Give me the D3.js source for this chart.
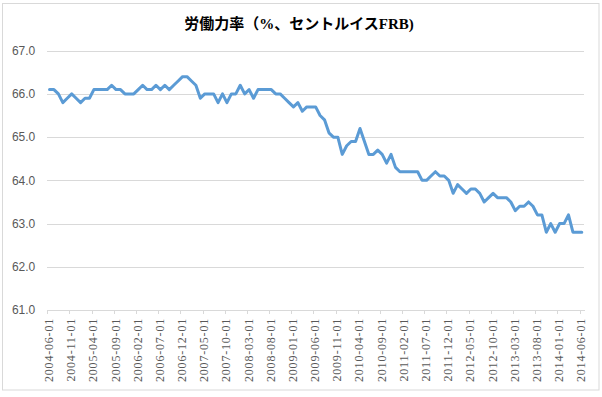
<!DOCTYPE html>
<html>
<head>
<meta charset="utf-8">
<script src="https://cdn.jsdelivr.net/npm/d3@7"></script>
<style>
    body { margin: 0; background: #fff; }
    svg { display: block; }
    .title { font-family: "Liberation Serif", "Noto Sans CJK JP", serif; font-weight: bold; font-size: 15px; fill: #000; }
    .yaxis text { font-family: "Liberation Sans", Arial, sans-serif; font-size: 12px; fill: #595959; }
    .xaxis text { font-family: "Liberation Serif", serif; font-size: 12px; fill: #595959; letter-spacing: 0.8px; }
</style>
</head>
<body>
<div id="chart"></div>
<script>
const title = '労働力率（%、セントルイスFRB)';

// monthly, 2004-06 .. 2014-06
const startMonth = new Date(2004, 5, 1);
const v2004 = [66.1, 66.1, 66.0, 65.8, 65.9, 66.0, 65.9];
const v2005 = [65.8, 65.9, 65.9, 66.1, 66.1, 66.1, 66.1, 66.2, 66.1, 66.1, 66.0, 66.0];
const v2006 = [66.0, 66.1, 66.2, 66.1, 66.1, 66.2, 66.1, 66.2, 66.1, 66.2, 66.3, 66.4];
const v2007 = [66.4, 66.3, 66.2, 65.9, 66.0, 66.0, 66.0, 65.8, 66.0, 65.8, 66.0, 66.0];
const v2008 = [66.2, 66.0, 66.1, 65.9, 66.1, 66.1, 66.1, 66.1, 66.0, 66.0, 65.9, 65.8];
const v2009 = [65.7, 65.8, 65.6, 65.7, 65.7, 65.7, 65.5, 65.4, 65.1, 65.0, 65.0, 64.6];
const v2010 = [64.8, 64.9, 64.9, 65.2, 64.9, 64.6, 64.6, 64.7, 64.6, 64.4, 64.6, 64.3];
const v2011 = [64.2, 64.2, 64.2, 64.2, 64.2, 64.0, 64.0, 64.1, 64.2, 64.1, 64.1, 64.0];
const v2012 = [63.7, 63.9, 63.8, 63.7, 63.8, 63.8, 63.7, 63.5, 63.6, 63.7, 63.6, 63.6];
const v2013 = [63.6, 63.5, 63.3, 63.4, 63.4, 63.5, 63.4, 63.2, 63.2, 62.8, 63.0, 62.8];
const v2014 = [63.0, 63.0, 63.2, 62.8, 62.8, 62.8];

const yTicks = [61, 62, 63, 64, 65, 66, 67];
const labelEvery = 5;

const values = [].concat(v2004, v2005, v2006, v2007, v2008, v2009, v2010, v2011, v2012, v2013, v2014);
const dates = values.map(function(v, i) { return d3.timeMonth.offset(startMonth, i); });
const fmt = d3.timeFormat('%Y-%m-%d');

const W = 602, H = 397;
const plotL = 47.3, plotR = 584, plotT = 50.7, plotB = 310;

const svg = d3.select('#chart').append('svg')
    .attr('width', W)
    .attr('height', H);

svg.append('rect')
    .attr('x', 2.5).attr('y', 3.5)
    .attr('width', 596.5).attr('height', 386.5)
    .attr('fill', '#fff')
    .attr('stroke', '#d9d9d9');

svg.append('text')
    .attr('class', 'title')
    .attr('x', 299)
    .attr('y', 29)
    .attr('text-anchor', 'middle')
    .text(title);

// category boundaries, points sit in the middle of each slot
const x = d3.scaleLinear().domain([0, values.length]).range([plotL, plotR]);
const y = d3.scaleLinear().domain([61, 67]).range([plotB, plotT]);

const yAxis = svg.append('g')
    .attr('class', 'yaxis')
    .attr('transform', 'translate(' + plotL + ',0)')
    .call(d3.axisLeft(y)
        .tickValues(yTicks)
        .tickFormat(d3.format('.1f'))
        .tickSize(-(plotR - plotL))
        .tickPadding(12));
yAxis.select('.domain').remove();
yAxis.selectAll('line').attr('stroke', '#d9d9d9').attr('shape-rendering', 'crispEdges');

const tickIdx = d3.range(0, values.length, labelEvery);

const xAxis = svg.append('g')
    .attr('class', 'xaxis')
    .attr('transform', 'translate(0,' + plotB + ')')
    .call(d3.axisBottom(x)
        .tickValues(tickIdx)
        .tickSize(4)
        .tickSizeOuter(0)
        .tickFormat(function(i) { return fmt(dates[i]); }));
xAxis.select('.domain').attr('stroke', '#d9d9d9').attr('shape-rendering', 'crispEdges');
xAxis.selectAll('line').attr('stroke', '#d9d9d9').attr('shape-rendering', 'crispEdges');
xAxis.selectAll('text')
    .attr('text-anchor', 'end')
    .attr('transform', 'rotate(-90)')
    .attr('x', -8)
    .attr('y', 1)
    .attr('dy', '0.35em');

const line = d3.line()
    .x(function(d, i) { return x(i + 0.5); })
    .y(function(d) { return y(d); });

svg.append('path')
    .datum(values)
    .attr('d', line)
    .attr('fill', 'none')
    .attr('stroke', '#5b9bd5')
    .attr('stroke-width', 3)
    .attr('stroke-linejoin', 'round')
    .attr('stroke-linecap', 'round');
</script>
</body>
</html>
